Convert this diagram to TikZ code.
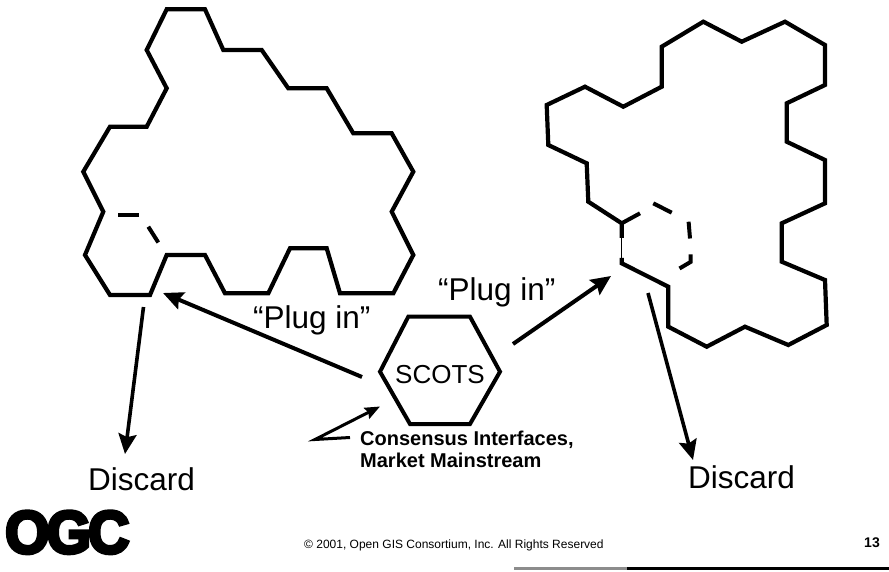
\documentclass[tikz,border=0pt]{standalone}
\usepackage{fontspec}
\setmainfont{Liberation Sans}
\newfontfamily\logofont{Liberation Sans Bold}[FakeBold=6]
\usetikzlibrary{arrows.meta}
\begin{document}
\begin{tikzpicture}[x=1pt,y=-1pt,
  outline/.style={line width=4.2pt, line join=miter, miter limit=6},
  dashpart/.style={line width=4pt},
  hexstyle/.style={line width=4pt, line join=miter},
  bigarrow/.style={line width=4pt, -{Stealth[length=20pt,width=18pt,inset=3pt]}},
  discarrow/.style={line width=3.6pt, -{Stealth[length=20pt,width=18pt,inset=3pt]}},
  smallarrow/.style={line width=3pt, line join=miter, -{Stealth[length=15pt,width=12pt,inset=2pt]}},
  biglabel/.style={font=\fontsize{31.5}{36}\selectfont, inner sep=0pt, anchor=base west},
  boldlabel/.style={font=\bfseries\fontsize{20}{22}\selectfont, inner sep=0pt, anchor=base west}]
\useasboundingbox (0,0) rectangle (889,572);
\fill[white] (0,0) rectangle (889,572);

% left shape
\draw[outline] (166.7,9.3) -- (205,9.3) -- (223.3,50) -- (261.7,50) -- (288.3,88.3) -- (326.7,88.3)
  -- (353.3,133.3) -- (391.7,133.3) -- (413.3,171.7) -- (391.7,211.7) -- (413.3,255) -- (393.3,293.3)
  -- (340,293.3) -- (326.7,248.3) -- (290,248.3) -- (268.3,293.3) -- (225,293.3) -- (205,255)
  -- (166.7,255) -- (150,295) -- (110,295) -- (85,255) -- (103.3,211.7) -- (83.3,171.7)
  -- (110,126.7) -- (146.7,126.7) -- (166.7,88.3) -- (146.7,50) -- cycle;
\draw[dashpart] (118,215) -- (139,215);
\draw[dashpart] (148.3,226.7) -- (158.3,242.5);

% right shape
\draw[outline] (621.7,258) -- (621.7,263.3) -- (668.3,286.7) -- (668.3,326.7) -- (706.7,346.7)
  -- (745,326.7) -- (788.3,345) -- (826.7,325) -- (825,280) -- (781.7,261.7) -- (781.7,223.3)
  -- (825,203.3) -- (825,160) -- (786.7,141.7) -- (786.7,103.3) -- (825,85) -- (825,45)
  -- (785,21.7) -- (741.7,41.7) -- (703.3,21.7) -- (661.7,46.7) -- (661.7,86.7) -- (623.3,106.7)
  -- (585,86.7) -- (546.7,105) -- (548.3,145) -- (586.7,163.3) -- (588.3,201.7) -- (621.7,223.3)
  -- (621.7,238);
\draw[line width=1pt] (621.7,238) -- (621.7,258);
\draw[dashpart] (621.7,223.3) -- (640,213.3);
\draw[dashpart] (653.3,203.3) -- (671.7,212.7);
\draw[dashpart] (688.6,221.7) -- (690,238.5);
\draw[dashpart, line join=miter] (690.5,254.5) -- (690.5,262) -- (679.5,268.5);

% SCOTS hexagon
\draw[hexstyle] (408.3,316.7) -- (470,316.7) -- (500,371.7) -- (470,424) -- (410,424) -- (380,371.7) -- cycle;
\node[font=\fontsize{26}{30}\selectfont, inner sep=0pt, anchor=base] (scots) at (440,383) {SCOTS};

% connector end points
\coordinate (lt) at (362,377);
\coordinate (lh) at (163,293);
\coordinate (rt) at (513,344);
\coordinate (rh) at (611,276);
\coordinate (ldt) at (143.5,307);
\coordinate (ldh) at (125,454);
\coordinate (rdt) at (648,293);
\coordinate (rdh) at (693,460);
\coordinate (pa) at (350,437.5);
\coordinate (pb) at (315,439.5);
\coordinate (pc) at (380,406.5);

\draw[bigarrow] (lt) -- (lh);
\draw[bigarrow] (rt) -- (rh);
\draw[discarrow] (ldt) -- (ldh);
\draw[discarrow] (rdt) -- (rdh);
\draw[smallarrow] (pa) -- (pb) -- (pc);

% labels
\node[biglabel] (plugL) at (253,328) {“Plug in”};
\node[biglabel] (plugR) at (438,300) {“Plug in”};
\node[biglabel] (discL) at (88,490) {Discard};
\node[biglabel] (discR) at (688,488) {Discard};
\node[boldlabel] (cons1) at (360,445) {Consensus Interfaces,};
\node[boldlabel] (cons2) at (360,467) {Market Mainstream};

% footer
\node[inner sep=0pt, anchor=base west] (logo) at (5,553)
  {\scalebox{0.95}[1]{\logofont\fontsize{60}{60}\selectfont O\kern-3pt G\kern-3pt C}};
\node[font=\fontsize{12}{14}\selectfont, inner sep=0pt, anchor=base west] (copy) at (304,548)
  {© 2001, Open GIS Consortium, Inc. All Rights Reserved};
\node[font=\bfseries\fontsize{14}{16}\selectfont, inner sep=0pt, anchor=base east] (pagenum) at (880,547) {13};
\draw[line width=2.5pt, black!45] (514,568.3) -- (627,568.3);
\draw[line width=2.8pt] (627,568.3) -- (889,568.3);
\end{tikzpicture}
\end{document}
